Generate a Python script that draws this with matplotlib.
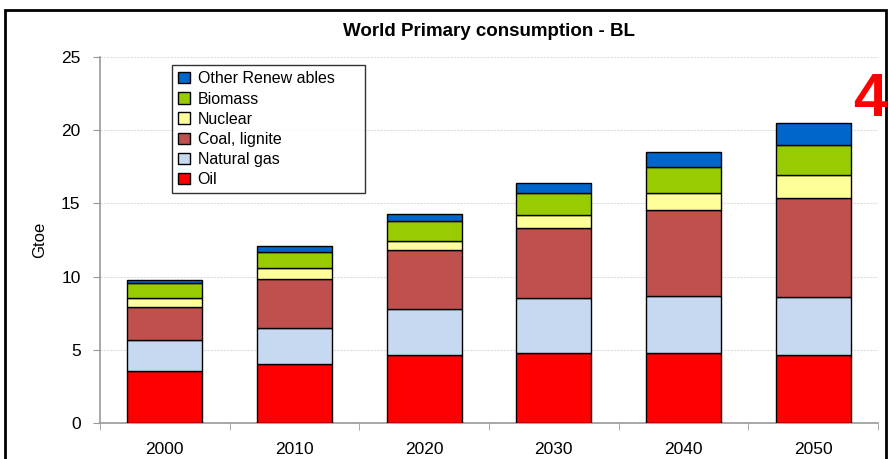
import numpy as np
import matplotlib
matplotlib.use("Agg")
import matplotlib.pyplot as plt
from matplotlib.patches import Rectangle

plt.rcParams['font.family'] = ['Liberation Sans', 'DejaVu Sans']

years = ["2000", "2010", "2020", "2030", "2040", "2050"]

# Gtoe per source
oil = [3.57, 4.01, 4.64, 4.80, 4.80, 4.64]
natural_gas = [2.12, 2.48, 3.17, 3.74, 3.90, 3.97]
coal = [2.21, 3.35, 4.01, 4.76, 5.85, 6.74]
nuclear = [0.62, 0.73, 0.61, 0.89, 1.16, 1.57]
biomass = [1.06, 1.11, 1.39, 1.50, 1.76, 2.07]
other_renew = [0.19, 0.41, 0.46, 0.72, 1.06, 1.48]

series = [
    ("Oil", oil, "#FF0000"),
    ("Natural gas", natural_gas, "#C6D9F0"),
    ("Coal, lignite", coal, "#C0504D"),
    ("Nuclear", nuclear, "#FFFF99"),
    ("Biomass", biomass, "#99CC00"),
    ("Other Renew ables", other_renew, "#0066CC"),
]

fig = plt.figure(figsize=(8.89, 4.59), dpi=100)
ax = fig.add_axes([100 / 889, 1 - 423 / 459, 778 / 889, 366 / 459])

x = np.arange(len(years))
bottom = np.zeros(len(years))
handles = []
for name, vals, col in series:
    b = ax.bar(x, vals, width=0.58, bottom=bottom, color=col,
               edgecolor="black", linewidth=1.0, label=name, zorder=3)
    handles.append(b)
    bottom += np.array(vals)

ax.set_xlim(-0.5, len(years) - 0.5)
ax.set_ylim(0, 25)
ax.set_yticks(range(0, 26, 5))
ax.set_xticks(x)
ax.set_xticklabels(years, fontsize=12.5)
ax.tick_params(axis="x", length=0, pad=14)
ax.set_xticks(np.arange(-0.5, len(years)), minor=True)
ax.tick_params(axis="x", which="minor", length=5, color="#999999", direction="out")
ax.tick_params(axis="y", length=5, color="#999999", labelsize=12.5,
               direction="out", pad=9)
ax.yaxis.grid(True, color="#DDDDDD", linestyle=(0, (2, 1)), linewidth=0.8, zorder=0)

for s in ["top", "right"]:
    ax.spines[s].set_visible(False)
for s in ["left", "bottom"]:
    ax.spines[s].set_color("#999999")
    ax.spines[s].set_linewidth(1.2)

ax.set_ylabel("Gtoe", fontsize=12, labelpad=10)

leg = ax.legend(handles[::-1], [s[0] for s in series][::-1],
                loc="upper left",
                bbox_to_anchor=(72 / 778, 1 - 8 / 366, 193 / 778, 0),
                mode="expand",
                fontsize=11.5, frameon=True, fancybox=False, edgecolor="black",
                handlelength=0.7, handleheight=0.7, handletextpad=0.5,
                labelspacing=0.32, borderpad=0.4, borderaxespad=0)
leg.get_frame().set_linewidth(1.0)
leg.set_zorder(5)

fig.text(489 / 889, 1 - 32 / 459, "World Primary consumption - BL",
         fontsize=13.5, fontweight="bold", ha="center", va="center")
fig.text(853 / 889, 1 - 100 / 459, "4", color="#FF0000", fontsize=44,
         fontweight="bold", ha="left", va="center")

# outer frame of the original slide
fig.patches.append(Rectangle((5 / 889, -0.1), 881 / 889, 1.1 - 10 / 459,
                             transform=fig.transFigure, fill=False,
                             edgecolor="black", linewidth=2))

fig.savefig("out.png", dpi=100)
